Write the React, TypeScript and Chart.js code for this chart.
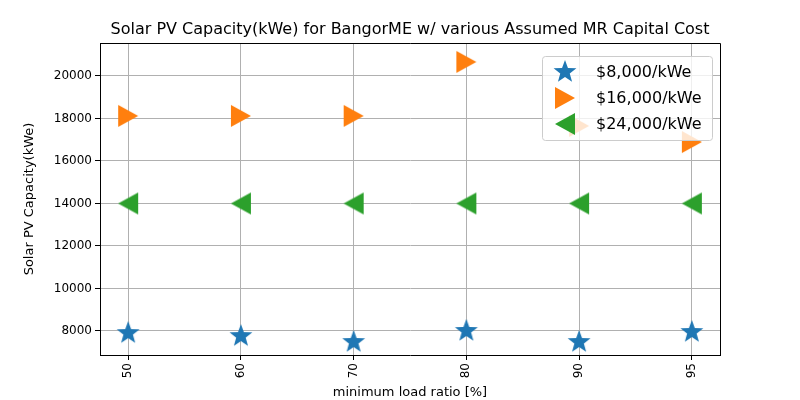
import React, { useEffect, useRef } from "react";
import { Chart, registerables } from "chart.js";

Chart.register(...registerables);

const categories = ["50", "60", "70", "80", "90", "95"];
const cost8k = [7900, 7760, 7480, 8000, 7480, 7950];
const cost16k = [18120, 18120, 18120, 20660, 17650, 16890];
const cost24k = [14000, 14000, 14000, 14000, 14000, 14000];
const seriesLabels = ["$8,000/kWe", "$16,000/kWe", "$24,000/kWe"];
const colors = ["#1f77b4", "#ff7f0e", "#2ca02c"];

function makeMarker(kind: string, color: string) {
  const c = document.createElement("canvas");
  c.width = 26;
  c.height = 26;
  const g = c.getContext("2d")!;
  g.fillStyle = color;
  g.beginPath();
  if (kind === "star") {
    for (let i = 0; i < 10; i++) {
      const r = i % 2 === 0 ? 12 : 5;
      const a = -Math.PI / 2 + (i * Math.PI) / 5;
      const x = 13 + r * Math.cos(a);
      const y = 13 + r * Math.sin(a);
      if (i === 0) g.moveTo(x, y);
      else g.lineTo(x, y);
    }
  } else if (kind === "right") {
    g.moveTo(3, 2);
    g.lineTo(23, 13);
    g.lineTo(3, 24);
  } else {
    g.moveTo(23, 2);
    g.lineTo(3, 13);
    g.lineTo(23, 24);
  }
  g.closePath();
  g.fill();
  return c;
}

const App = () => {
  const ref = useRef<HTMLCanvasElement>(null);

  useEffect(() => {
    document.body.style.margin = "0";
    const ctx = ref.current!.getContext("2d")!;
    const markers = [
      makeMarker("star", colors[0]),
      makeMarker("right", colors[1]),
      makeMarker("left", colors[2]),
    ];
    const toPts = (arr: number[]) => arr.map((v, i) => ({ x: i, y: v }));
    const font = "'DejaVu Sans', sans-serif";

    const overlay = {
      id: "overlay",
      afterDraw(chart: any) {
        const c = chart.ctx;
        const a = chart.chartArea;
        c.save();
        // top and right spines
        c.strokeStyle = "#000";
        c.lineWidth = 1;
        c.beginPath();
        c.moveTo(a.left, a.top + 0.5);
        c.lineTo(a.right + 0.5, a.top + 0.5);
        c.lineTo(a.right + 0.5, a.bottom);
        c.stroke();

        c.fillStyle = "#000";
        c.font = `16px ${font}`;
        c.textAlign = "center";
        c.textBaseline = "alphabetic";
        c.fillText(
          "Solar PV Capacity(kWe) for BangorME w/ various Assumed MR Capital Cost",
          (a.left + a.right) / 2,
          a.top - 9
        );
        // legend
        const lx = 542, ly = 56, lw = 170, lh = 84;
        c.fillStyle = "rgba(255,255,255,0.8)";
        c.strokeStyle = "#cccccc";
        c.beginPath();
        c.roundRect(lx + 0.5, ly + 0.5, lw, lh, 3);
        c.fill();
        c.stroke();
        c.font = `16px ${font}`;
        c.textAlign = "left";
        c.textBaseline = "middle";
        seriesLabels.forEach((t, i) => {
          const y = ly + 16 + i * 26;
          c.drawImage(markers[i], 565 - 13, y - 13);
          c.fillStyle = "#000";
          c.fillText(t, 596, y + 1);
        });
        c.restore();
      },
    };

    const chart = new Chart(ctx, {
      type: "scatter",
      data: {
        datasets: [cost8k, cost16k, cost24k].map((d, i) => ({
          label: seriesLabels[i],
          data: toPts(d),
          pointStyle: markers[i],
          backgroundColor: colors[i],
        })),
      },
      options: {
        responsive: false,
        animation: false,
        layout: { padding: { top: 43, right: 80, left: 22, bottom: 0 } },
        plugins: { legend: { display: false }, title: { display: false }, tooltip: { enabled: false } },
        scales: {
          x: {
            type: "linear",
            min: -0.25,
            max: 5.25,
            afterFit: (s: any) => { s.height = 45; },
            afterBuildTicks: (s: any) => {
              s.ticks = categories.map((_, i) => ({ value: i }));
            },
            ticks: {
              color: "#000",
              font: { family: font, size: 12 },
              maxRotation: 90,
              minRotation: 90,
              callback: (v: any) => categories[v],
            },
            grid: { color: "#b0b0b0", tickColor: "#000", tickLength: 5 },
            border: { color: "#000" },
            title: {
              display: true,
              text: "minimum load ratio [%]",
              color: "#000",
              font: { family: font, size: 13 },
              padding: { top: 6, bottom: 0 },
            },
          },
          y: {
            min: 6870,
            max: 21550,
            afterFit: (s: any) => { s.width = 78; },
            afterBuildTicks: (s: any) => {
              const t = [];
              for (let v = 8000; v <= 20000; v += 2000) t.push({ value: v });
              s.ticks = t;
            },
            ticks: { color: "#000", font: { family: font, size: 12 }, callback: (v: any) => String(v) },
            grid: { color: "#b0b0b0", tickColor: "#000", tickLength: 5 },
            border: { color: "#000" },
            title: {
              display: true,
              text: "Solar PV Capacity(kWe)",
              color: "#000",
              font: { family: font, size: 13 },
              padding: 0,
            },
          },
        },
      },
      plugins: [overlay],
    } as any);

    return () => chart.destroy();
  }, []);

  return <canvas ref={ref} width={800} height={400} />;
};

export default App;
